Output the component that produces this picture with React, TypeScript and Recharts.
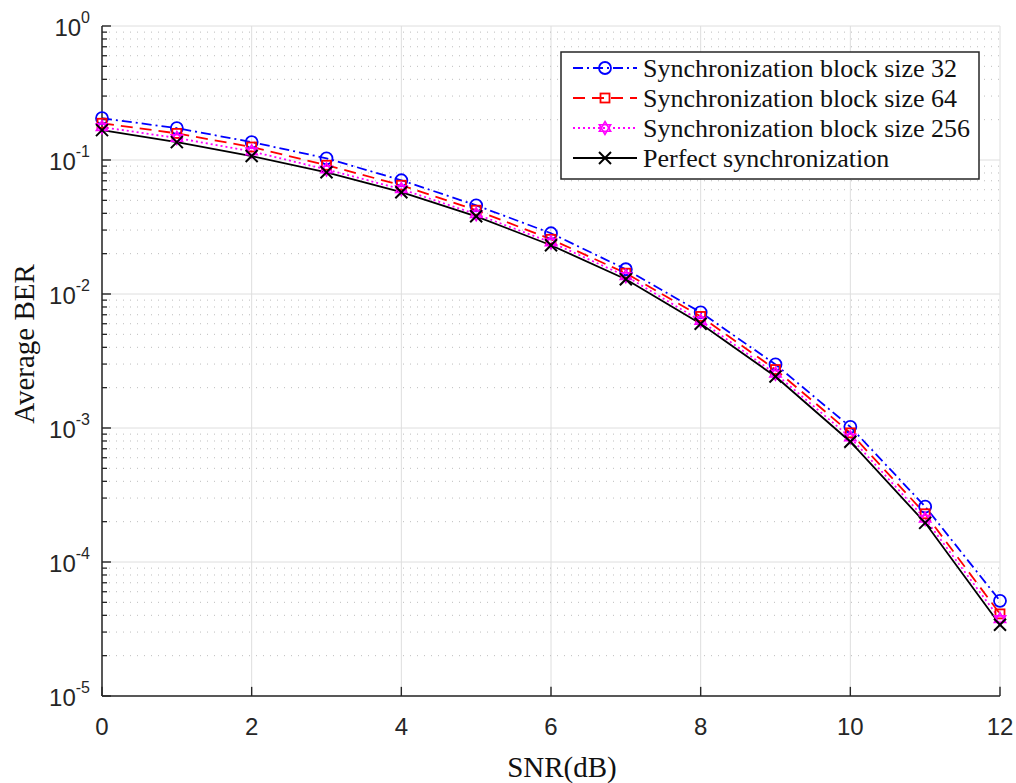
import React from "react";
import {
  LineChart,
  Line,
  XAxis,
  YAxis,
  CartesianGrid,
  ReferenceLine,
  Label,
} from "recharts";

const snr = [0, 1, 2, 3, 4, 5, 6, 7, 8, 9, 10, 11, 12];
const ber32 = [0.205, 0.173, 0.136, 0.103, 0.0706, 0.0459, 0.0284, 0.0153, 0.0073, 0.00298, 0.00102, 0.000259, 0.0000513];
const ber64 = [0.188, 0.158, 0.125, 0.0914, 0.0648, 0.0422, 0.0256, 0.0143, 0.0068, 0.00273, 0.00092, 0.000229, 0.000041];
const ber256 = [0.176, 0.146, 0.116, 0.085, 0.0606, 0.0394, 0.0243, 0.0136, 0.0063, 0.00254, 0.00085, 0.00021, 0.0000375];
const berPerfect = [0.167, 0.136, 0.107, 0.081, 0.0575, 0.038, 0.0231, 0.0129, 0.006, 0.00242, 0.00079, 0.000196, 0.000034];

const xTicks = [0, 2, 4, 6, 8, 10, 12];
const yTicks = [1e-5, 1e-4, 1e-3, 1e-2, 1e-1, 1];
const decades = [1e-5, 1e-4, 1e-3, 1e-2, 1e-1];
const minorSteps = [2, 3, 4, 5, 6, 7, 8, 9];
const yMinor = decades.flatMap((d) => minorSteps.map((m) => m * d));

const legendNames = [
  "Synchronization block size 32",
  "Synchronization block size 64",
  "Synchronization block size 256",
  "Perfect synchronization",
];

const data = snr.map((s, i) => ({
  snr: s,
  b32: ber32[i],
  b64: ber64[i],
  b256: ber256[i],
  perfect: berPerfect[i],
}));

const AXIS = "#262626";
const SERIF = "Liberation Serif";
const SANS = "Liberation Sans";

// inward tick lengths, in data units (~9px / ~5px)
const TICK_X_MAJOR = 0.12;
const TICK_X_MINOR = 0.067;
const TICK_Y_TOP = 1.17e-5;

// marker shapes, shared by the plot and the legend
function Marker({ kind, cx, cy, color }: any) {
  if (kind === "circle")
    return <circle cx={cx} cy={cy} r={6} fill="none" stroke={color} strokeWidth={1.8} />;
  if (kind === "square")
    return <rect x={cx - 4.5} y={cy - 4.5} width={9} height={9} fill="none" stroke={color} strokeWidth={1.8} />;
  if (kind === "hexagram") {
    const r = 6.5;
    const tri = (a0: number) =>
      [0, 1, 2]
        .map((k) => {
          const a = ((a0 + k * 120) * Math.PI) / 180;
          return `${cx + r * Math.cos(a)},${cy + r * Math.sin(a)}`;
        })
        .join(" ");
    return (
      <g fill="none" stroke={color} strokeWidth={1.6}>
        <polygon points={tri(-90)} />
        <polygon points={tri(90)} />
      </g>
    );
  }
  const h = 6;
  return (
    <g stroke={color} strokeWidth={2}>
      <line x1={cx - h} y1={cy - h} x2={cx + h} y2={cy + h} />
      <line x1={cx - h} y1={cy + h} x2={cx + h} y2={cy - h} />
    </g>
  );
}

const series = [
  { key: "b32", color: "#0000ff", dash: "10 4 2 4", marker: "circle" },
  { key: "b64", color: "#ff0000", dash: "12 7", marker: "square" },
  { key: "b256", color: "#ff00ff", dash: "2 3", marker: "hexagram" },
  { key: "perfect", color: "#000000", dash: undefined, marker: "x" },
];

const YTick = ({ x, y, payload }: any) => {
  const exp = Math.round(Math.log10(payload.value));
  return (
    <text x={x} y={y + 10} textAnchor="end" fill={AXIS} fontFamily={SANS} fontSize={24}>
      <tspan>10</tspan>
      <tspan dy={-13} fontSize={16}>{exp}</tspan>
    </text>
  );
};

const XTick = ({ x, y, payload }: any) => (
  <text x={x} y={y + 39} textAnchor="middle" fill={AXIS} fontFamily={SANS} fontSize={24}>
    {payload.value}
  </text>
);

function LegendBox() {
  return (
    <svg width={420} height={130} style={{ position: "absolute", left: 560, top: 51 }}>
      <rect x={1} y={1} width={418} height={127} fill="#fff" stroke={AXIS} strokeWidth={1.5} />
      {series.map((s, i) => {
        const cy = 17 + i * 30;
        return (
          <g key={s.key}>
            <line x1={13} y1={cy} x2={77} y2={cy} stroke={s.color} strokeWidth={1.8} strokeDasharray={s.dash} />
            <Marker kind={s.marker} cx={45} cy={cy} color={s.color} />
            <text x={83} y={cy + 9} fontFamily={SERIF} fontSize={26} fill="#111">
              {legendNames[i]}
            </text>
          </g>
        );
      })}
    </svg>
  );
}

export default function App() {
  return (
    <div style={{ position: "absolute", left: 0, top: 0, width: 1016, height: 783, background: "#fff" }}>
      <LineChart width={1016} height={783} data={data} margin={{ top: 26, right: 16, bottom: 0, left: 0 }}>
        <CartesianGrid stroke="#dedede" strokeWidth={1} horizontal={false} />
        {yMinor.map((v) => (
          <ReferenceLine key={`m${v}`} y={v} stroke="#bdbdbd" strokeDasharray="1 6" strokeWidth={1} />
        ))}
        {yTicks.map((v) => (
          <ReferenceLine key={`M${v}`} y={v} stroke="#dedede" strokeWidth={1} />
        ))}
        {/* inward tick marks */}
        {yMinor.map((v) => (
          <ReferenceLine key={`tm${v}`} segment={[{ x: 0, y: v }, { x: TICK_X_MINOR, y: v }]} stroke={AXIS} strokeWidth={1.3} />
        ))}
        {yTicks.map((v) => (
          <ReferenceLine key={`tM${v}`} segment={[{ x: 0, y: v }, { x: TICK_X_MAJOR, y: v }]} stroke={AXIS} strokeWidth={1.4} />
        ))}
        {xTicks.map((v) => (
          <ReferenceLine key={`tx${v}`} segment={[{ x: v, y: 1e-5 }, { x: v, y: TICK_Y_TOP }]} stroke={AXIS} strokeWidth={1.4} />
        ))}
        <XAxis
          dataKey="snr"
          type="number"
          domain={[0, 12]}
          ticks={xTicks}
          height={87}
          tickLine={false}
          tickSize={0}
          tickMargin={0}
          stroke={AXIS}
          strokeWidth={1.5}
          tick={<XTick />}
        >
          <Label
            content={() => (
              <text x={562} y={777} textAnchor="middle" fontFamily={SERIF} fontSize={29} fill="#111">
                SNR(dB)
              </text>
            )}
          />
        </XAxis>
        <YAxis
          scale="log"
          domain={[1e-5, 1]}
          ticks={yTicks}
          allowDataOverflow
          width={102}
          tickLine={false}
          tickSize={0}
          tickMargin={12}
          stroke={AXIS}
          strokeWidth={1.5}
          tick={<YTick />}
        >
          <Label
            content={() => (
              <text
                transform="translate(34, 344) rotate(-90)"
                textAnchor="middle"
                fontFamily={SERIF}
                fontSize={29}
                fill="#111"
              >
                Average BER
              </text>
            )}
          />
        </YAxis>
        {series.map((s) => (
          <Line
            key={s.key}
            dataKey={s.key}
            type="linear"
            stroke={s.color}
            strokeWidth={1.8}
            strokeDasharray={s.dash}
            isAnimationActive={false}
            dot={(p: any) => <Marker key={`${s.key}-${p.index}`} kind={s.marker} cx={p.cx} cy={p.cy} color={s.color} />}
            activeDot={false}
          />
        ))}
      </LineChart>
      <LegendBox />
    </div>
  );
}
